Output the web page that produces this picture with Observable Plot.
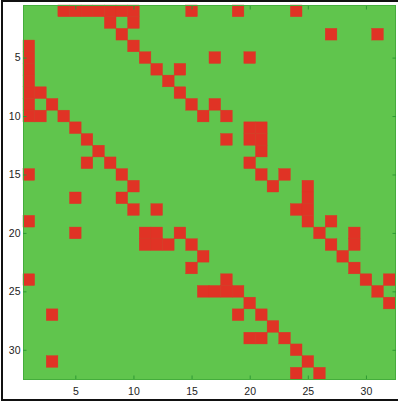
<!DOCTYPE html>
<html><head><meta charset="utf-8">
<script src="https://cdn.jsdelivr.net/npm/d3@7"></script>
<script src="https://cdn.jsdelivr.net/npm/@observablehq/plot@0.6"></script>
<style>
html,body{margin:0;padding:0;background:#fff;overflow:hidden}
#wrap{position:relative;width:398px;height:405px}
#chart{position:absolute;left:0;top:0}
#border{position:absolute;left:1px;top:0;width:420px;height:397px;border:2px solid #111;pointer-events:none}
</style></head>
<body><div id="wrap"><div id="chart"></div><div id="border"></div></div>
<script>
const matrixSize = 32;
const tickValues = [5, 10, 15, 20, 25, 30];
// for each row (1..32), the columns holding a red cell
const rowNeighbors = [
  [4, 5, 6, 7, 8, 9, 10, 15, 19, 24],
  [8, 10],
  [9, 27, 31],
  [1, 10],
  [1, 11, 17, 20],
  [1, 12, 14],
  [1, 13],
  [1, 2, 14],
  [1, 3, 15, 17],
  [1, 2, 4, 16, 18],
  [5, 20, 21],
  [6, 18, 20, 21],
  [7, 21],
  [6, 8, 20],
  [1, 9, 21, 23],
  [10, 22, 25],
  [5, 9, 25],
  [10, 12, 24, 25],
  [1, 25, 27],
  [5, 11, 12, 14, 26, 29],
  [11, 12, 13, 15, 27, 29],
  [16, 28],
  [15, 29],
  [1, 18, 30, 32],
  [16, 17, 18, 19, 31],
  [20, 32],
  [3, 19, 21],
  [22],
  [20, 21, 23],
  [24],
  [3, 25],
  [24, 26]
];

const green = "#60c54d";
const red = "#e03325";
const edgeGreen = "#45ad3c";
const tickGreen = "#2e9a35";

const cells = rowNeighbors.flatMap((cols, i) => cols.map(c => ({row: i + 1, col: c})));
const indices = d3.range(1, matrixSize + 1);

const chart = Plot.plot({
  width: 398,
  height: 405,
  marginLeft: 23,
  marginRight: 3,
  marginTop: 5,
  marginBottom: 26,
  style: {fontFamily: "'Liberation Sans', Arial, sans-serif", fontSize: "10.5px", color: "#222", background: "transparent"},
  x: {type: "band", domain: indices, padding: 0, round: false, axis: null},
  y: {type: "band", domain: indices, padding: 0, round: false, axis: null},
  marks: [
    Plot.frame({fill: green}),
    Plot.cell(cells, {x: "col", y: "row", fill: red, inset: 0, stroke: red, strokeWidth: 0.4}),
    Plot.frame({stroke: edgeGreen, strokeWidth: 1}),
    Plot.axisX(tickValues, {anchor: "bottom", tickSize: 0, tickPadding: 8, label: null, fill: "#222"}),
    Plot.axisY(tickValues, {anchor: "left", tickSize: 0, tickPadding: 3, label: null, fill: "#222"}),
    Plot.axisX(tickValues, {anchor: "bottom", tickSize: -3.5, tickFormat: () => "", label: null, stroke: tickGreen}),
    Plot.axisX(tickValues, {anchor: "top", tickSize: -3.5, tickFormat: () => "", label: null, stroke: tickGreen}),
    Plot.axisY(tickValues, {anchor: "left", tickSize: -3.5, tickFormat: () => "", label: null, stroke: tickGreen}),
    Plot.axisY(tickValues, {anchor: "right", tickSize: -3.5, tickFormat: () => "", label: null, stroke: tickGreen})
  ]
});
document.getElementById("chart").appendChild(chart);
</script>
</body></html>
